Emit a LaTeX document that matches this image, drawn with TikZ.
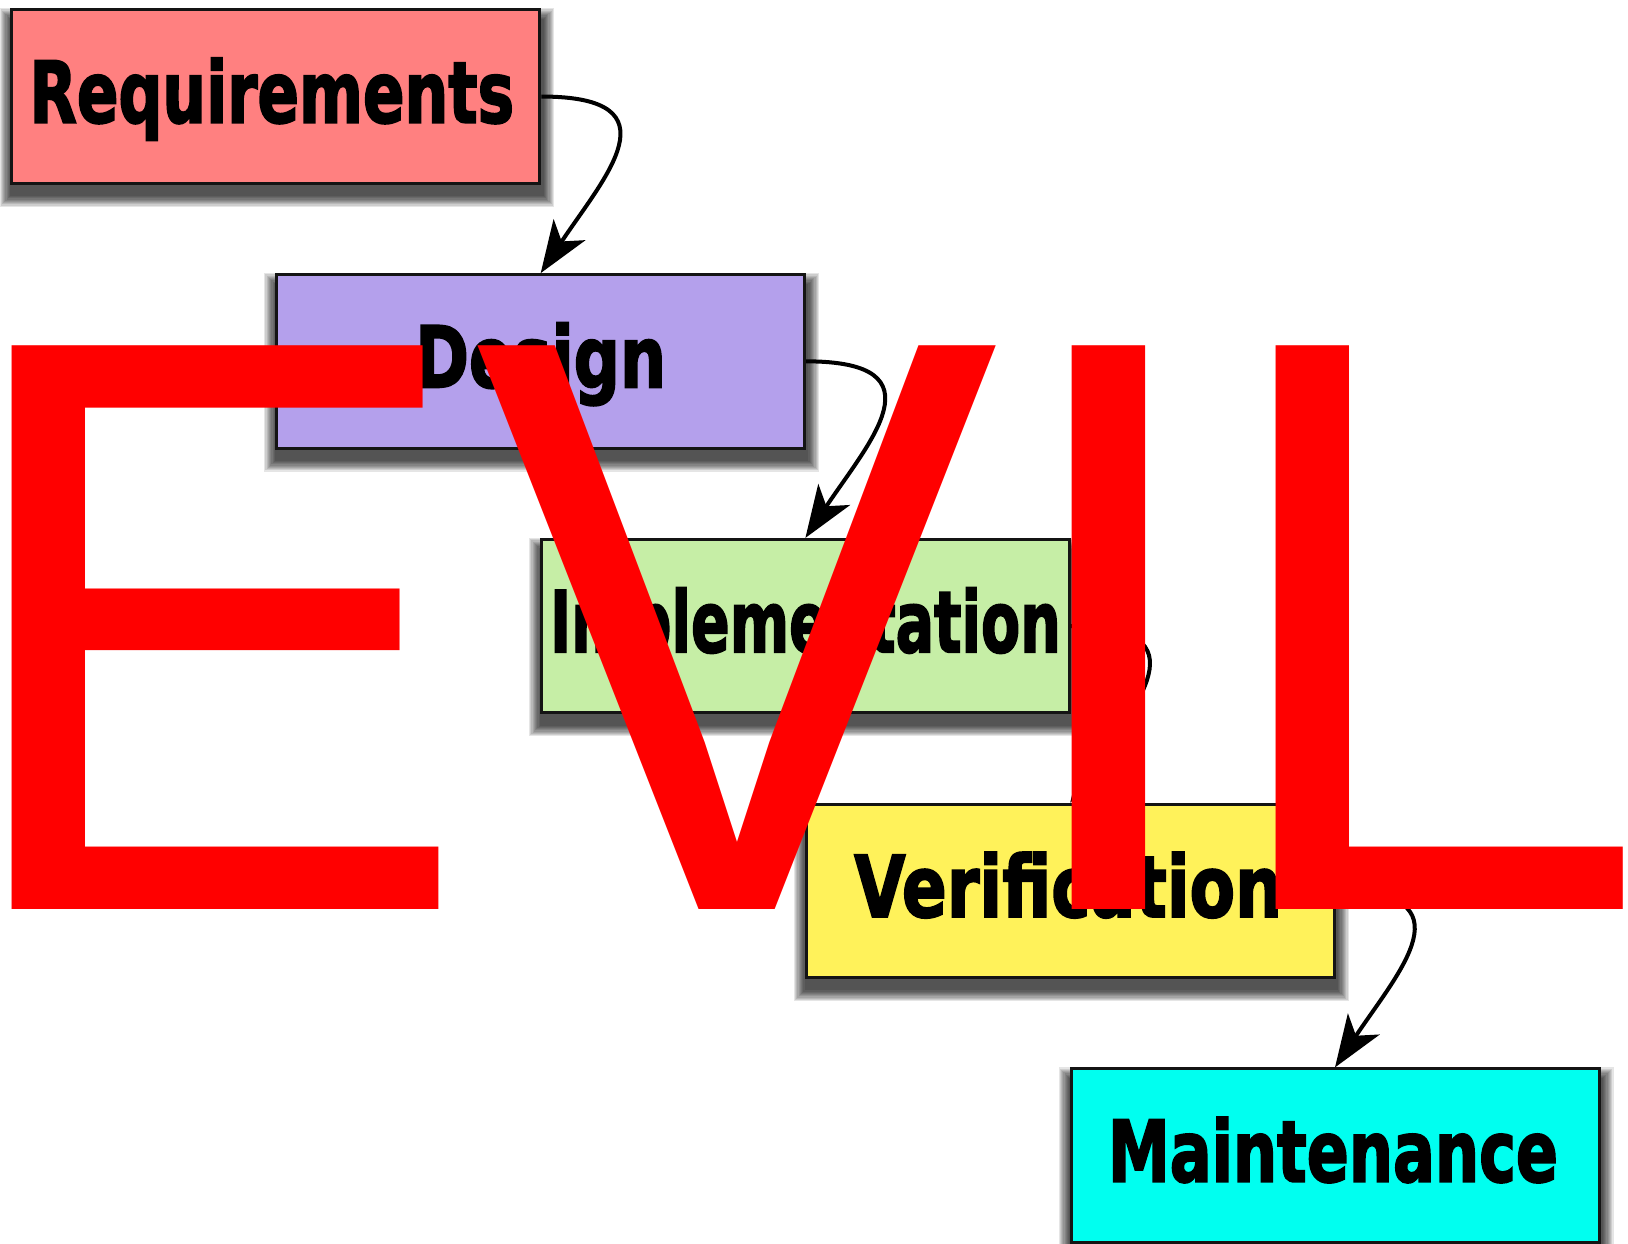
\documentclass[tikz,border=0pt]{standalone}
\usepackage{fontspec}
\usepackage{graphicx}
\usetikzlibrary{arrows.meta,backgrounds}
\newfontfamily\lblfont{DejaVu Sans}[BoldFeatures={FakeBold=2.5}]
\newfontfamily\evilfont{Liberation Sans}
\definecolor{reqc}{HTML}{FF8080}
\definecolor{desc}{HTML}{B4A0EC}
\definecolor{impc}{HTML}{C6EEA6}
\definecolor{verc}{HTML}{FFF25A}
\definecolor{mntc}{HTML}{00FFF0}
\definecolor{edgec}{HTML}{141414}
\definecolor{evilred}{HTML}{FF0000}
\tikzset{
  phase/.style={draw=edgec, line width=3pt, anchor=north west, inner sep=0pt,
    minimum width=528pt, minimum height=173.5pt,
    text height=62pt, text depth=10pt,
    font=\lblfont\bfseries\fontsize{85pt}{90pt}\selectfont},
  flow/.style={line width=4pt, -{Stealth[length=52pt,width=38pt,inset=14pt]}},
  evilstyle/.style={anchor=base west, inner sep=0pt, text=evilred,
    font=\evilfont\fontsize{787.4pt}{790pt}\selectfont}
}
\newcommand{\sq}[2]{\scalebox{#1}[1]{#2}}
\begin{document}
\begin{tikzpicture}[x=1pt,y=-1pt]
\useasboundingbox (0,0) rectangle (1628,1244);
\node[phase, fill=reqc] (r) at (10.4,8.3) {\hspace*{-8pt}\sq{0.722}{Requirements}};
\node[phase, fill=desc] (d) at (275.2,273.1) {\sq{0.762}{Design}};
\node[phase, fill=impc] (i) at (539.9,537.9) {\sq{0.671}{Implementation}};
\node[phase, fill=verc] (v) at (804.7,802.6) {\hspace*{-4pt}\sq{0.779}{Verification}};
\node[phase, fill=mntc] (m) at (1069.5,1067.4) {\hspace*{-4pt}\sq{0.730}{Maintenance}};
\begin{pgfonlayer}{background}
\fill[white] (0,0) rectangle (1628,1244);
\foreach \n in {r,d,i,v,m}{
  \foreach \k in {1,...,10}{
    \fill[black,opacity=0.1] ([shift={(1-1.2*\k,12-1.2*\k)}]\n.north west) rectangle ([shift={(1+1.2*\k,10+1.2*\k)}]\n.south east);
  }
}
\end{pgfonlayer}
\draw[flow] (r.east) .. controls +(138,0) and +(63,-95) .. (d.north);
\draw[flow] (d.east) .. controls +(138,0) and +(63,-95) .. (i.north);
\draw[flow] (i.east) .. controls +(138,0) and +(63,-95) .. (v.north);
\draw[flow] (v.east) .. controls +(138,0) and +(63,-95) .. (m.north);
\node[evilstyle] (evil) at (-52.3,909.6) {\scalebox{1}[1.0407]{E\kern2.1ptVI\kern-8.3ptL}};
\end{tikzpicture}
\end{document}
